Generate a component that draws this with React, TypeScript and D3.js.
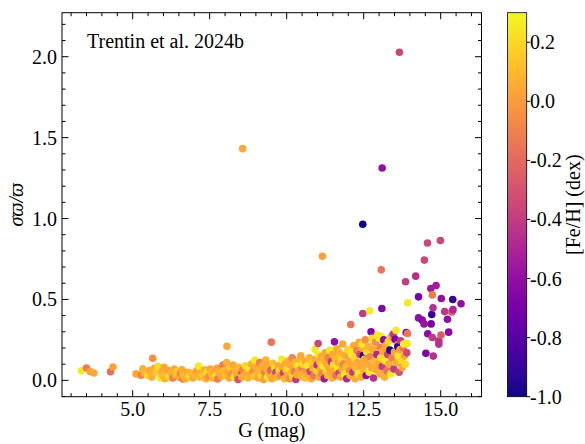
import React from 'react';
import * as d3 from 'd3';

// Each star: [G magnitude, relative parallax error sigma_plx/plx, [Fe/H] in dex]
type Star = [number, number, number];

const brightStars: Star[] = [
  [3.33, 0.059, 0.25], [3.50, 0.076, -0.12], [3.62, 0.055, 0.02], [3.74, 0.045, 0.05],
  [4.28, 0.053, -0.18], [4.36, 0.083, 0.02],
  [5.11, 0.040, 0.05], [5.27, 0.032, -0.08], [5.33, 0.072, 0.08], [5.40, 0.045, 0.10],
  [5.50, 0.030, 0.20], [5.55, 0.060, 0.05], [5.65, 0.137, -0.05], [5.62, 0.020, 0.08],
  [5.70, 0.075, 0.06], [5.78, 0.050, 0.15], [5.83, 0.085, 0.22], [5.90, 0.015, 0.25],
  [5.95, 0.055, 0.05], [5.98, 0.030, 0.10],
];

const band6to8: Star[] = [
  [6.02, 0.080, 0.05], [6.05, 0.010, 0.08], [6.10, 0.040, 0.12], [6.15, 0.060, 0.02],
  [6.20, 0.025, 0.25], [6.25, 0.045, 0.08], [6.30, 0.015, -0.10], [6.35, 0.070, 0.05],
  [6.40, 0.035, 0.10], [6.45, 0.055, 0.18], [6.50, 0.020, 0.05], [6.55, 0.045, -0.08],
  [6.60, 0.065, 0.05], [6.63, 0.008, -0.12], [6.65, 0.030, 0.12], [6.72, 0.010, 0.08],
  [6.78, 0.050, 0.05], [6.85, 0.025, 0.22], [6.90, 0.045, 0.10], [6.95, 0.015, 0.05],
  [7.02, 0.035, 0.08], [7.08, 0.060, 0.02], [7.14, 0.088, 0.25], [7.18, 0.020, 0.10],
  [7.22, 0.045, 0.05], [7.28, 0.030, 0.15], [7.33, 0.065, 0.08], [7.38, 0.010, 0.05],
  [7.42, 0.050, 0.22], [7.48, 0.025, -0.05], [7.52, 0.070, 0.05], [7.56, 0.040, 0.10],
  [7.60, 0.015, 0.08], [7.65, 0.055, 0.05], [7.70, 0.030, 0.20], [7.74, 0.075, 0.02],
  [7.76, 0.008, -0.12], [7.82, 0.045, 0.08], [7.88, 0.025, 0.05], [7.93, 0.095, -0.12],
  [7.97, 0.060, 0.10],
];

const band8to10: Star[] = [
  [8.02, 0.030, 0.12], [8.06, 0.210, 0.05], [8.05, 0.110, 0.08], [8.10, 0.050, 0.02],
  [8.14, 0.015, 0.05], [8.18, 0.075, 0.15], [8.22, 0.040, -0.05], [8.26, 0.095, 0.05],
  [8.30, 0.020, 0.25], [8.34, 0.060, 0.08], [8.38, 0.035, 0.05], [8.42, 0.005, -0.30],
  [8.45, 0.080, 0.10], [8.50, 0.045, 0.02], [8.56, 0.043, -0.35], [8.55, 0.020, 0.08],
  [8.58, 0.065, -0.10], [8.62, 0.030, 0.05], [8.66, 0.090, 0.20], [8.70, 0.050, 0.05],
  [8.75, 0.015, 0.10], [8.78, 0.070, 0.25], [8.82, 0.035, 0.05], [8.86, 0.100, 0.08],
  [8.90, 0.055, -0.05], [8.94, 0.025, 0.12], [8.97, 0.125, 0.25],
  [9.02, 0.080, 0.05], [9.05, 0.040, 0.10], [9.08, 0.015, 0.05], [9.12, 0.110, -0.10],
  [9.15, 0.060, 0.08], [9.18, 0.030, 0.20], [9.22, 0.090, 0.05], [9.25, 0.005, 0.02],
  [9.28, 0.050, -0.10], [9.32, 0.125, 0.08], [9.35, 0.070, 0.05], [9.38, 0.020, 0.25],
  [9.42, 0.040, 0.10], [9.45, 0.095, 0.05], [9.50, 0.236, -0.15], [9.48, 0.060, -0.20],
  [9.52, 0.010, 0.05], [9.55, 0.105, 0.12], [9.58, 0.035, 0.05], [9.62, 0.075, 0.25],
  [9.65, 0.050, -0.35], [9.68, 0.020, 0.08], [9.72, 0.090, 0.05], [9.76, 0.060, 0.20],
  [9.80, 0.030, -0.05], [9.84, 0.130, 0.25], [9.86, 0.080, 0.05], [9.90, 0.045, -0.38],
  [9.93, 0.010, 0.10], [9.96, 0.100, 0.05], [9.98, 0.065, 0.15],
];

const band10to12: Star[] = [
  [10.02, 0.030, 0.05], [10.05, 0.120, 0.08], [10.08, 0.070, 0.25], [10.10, 0.010, -0.05],
  [10.12, 0.095, 0.05], [10.15, 0.045, 0.10], [10.18, 0.140, -0.08], [10.20, 0.020, 0.20],
  [10.22, 0.080, 0.05], [10.25, 0.055, -0.12], [10.28, 0.110, 0.08], [10.30, 0.005, -0.40],
  [10.33, 0.035, 0.05], [10.36, 0.090, 0.25], [10.40, 0.060, 0.05], [10.43, 0.130, 0.10],
  [10.46, 0.152, 0.05], [10.48, 0.025, 0.08], [10.50, 0.075, -0.10], [10.53, 0.100, 0.20],
  [10.56, 0.045, 0.05], [10.60, 0.015, 0.12], [10.62, 0.120, 0.05], [10.65, 0.065, -0.05],
  [10.68, 0.090, 0.25], [10.70, 0.035, 0.05], [10.74, 0.140, 0.08], [10.76, 0.055, -0.35],
  [10.80, 0.010, 0.05], [10.82, 0.110, 0.15], [10.85, 0.075, 0.05], [10.88, 0.030, -0.15],
  [10.92, 0.190, 0.25], [10.94, 0.130, 0.05], [10.97, 0.060, 0.20], [10.99, 0.095, -0.45],
  [11.02, 0.228, -0.35], [11.03, 0.160, 0.25], [11.05, 0.020, 0.05], [11.08, 0.110, 0.10],
  [11.10, 0.070, 0.05], [11.12, 0.145, 0.05], [11.15, 0.040, -0.10], [11.18, 0.090, 0.25],
  [11.20, 0.125, 0.08], [11.22, 0.010, -0.55], [11.25, 0.170, 0.05], [11.28, 0.060, 0.20],
  [11.30, 0.100, 0.05], [11.33, 0.030, 0.10], [11.35, 0.140, -0.10], [11.38, 0.080, 0.05],
  [11.40, 0.185, 0.25], [11.43, 0.050, 0.05], [11.45, 0.115, -0.40], [11.48, 0.015, 0.08],
  [11.50, 0.160, 0.05], [11.52, 0.095, 0.22], [11.55, 0.238, -0.60], [11.56, 0.060, 0.05],
  [11.58, 0.135, 0.10], [11.60, 0.030, -0.15], [11.63, 0.195, 0.05], [11.66, 0.080, 0.25],
  [11.68, 0.110, 0.05], [11.70, 0.045, -0.35], [11.72, 0.170, 0.08], [11.75, 0.020, 0.05],
  [11.78, 0.130, 0.20], [11.80, 0.070, 0.05], [11.82, 0.225, 0.05], [11.85, 0.100, -0.10],
  [11.88, 0.040, 0.25], [11.90, 0.155, 0.05], [11.93, 0.085, 0.10], [11.95, 0.010, -0.50],
  [11.98, 0.190, 0.20],
];

const band12to14: Star[] = [
  [12.02, 0.120, 0.05], [12.04, 0.060, -0.05], [12.06, 0.030, 0.10], [12.08, 0.345, -0.15],
  [12.10, 0.170, 0.25], [12.12, 0.095, 0.05], [12.15, 0.050, -0.40], [12.18, 0.215, 0.05],
  [12.20, 0.140, 0.20], [12.22, 0.010, 0.05], [12.25, 0.075, 0.10], [12.28, 0.185, -0.10],
  [12.30, 0.110, 0.05], [12.32, 0.040, 0.25], [12.35, 0.235, 0.05], [12.38, 0.160, -0.35],
  [12.40, 0.090, 0.05], [12.42, 0.020, 0.08], [12.45, 0.200, 0.05], [12.46, 0.224, 0.25],
  [12.47, 0.413, -0.40], [12.49, 0.152, -0.95], [12.50, 0.060, 0.10], [12.52, 0.130, 0.05],
  [12.55, 0.250, -0.05], [12.58, 0.030, -0.60], [12.60, 0.175, 0.20], [12.62, 0.100, 0.05],
  [12.65, 0.210, 0.08], [12.68, 0.050, 0.25], [12.70, 0.430, 0.25], [12.72, 0.145, -0.10],
  [12.74, 0.300, -0.65], [12.76, 0.080, 0.05], [12.78, 0.260, 0.20], [12.80, 0.190, 0.05],
  [12.82, 0.015, -0.45], [12.85, 0.120, 0.10], [12.88, 0.235, -0.05], [12.90, 0.065, 0.05],
  [12.93, 0.160, -0.50], [12.95, 0.280, 0.25], [12.98, 0.100, 0.05],
  [13.00, 0.260, 0.25], [13.02, 0.040, 0.05], [13.03, 0.205, -0.10], [13.05, 0.140, 0.20],
  [13.07, 0.270, 0.25], [13.09, 0.444, -0.65], [13.10, 0.085, -0.40], [13.12, 0.180, 0.05],
  [13.15, 0.250, -0.60], [13.18, 0.020, 0.08], [13.20, 0.120, 0.25], [13.22, 0.215, 0.05],
  [13.25, 0.060, -0.15], [13.28, 0.160, -0.35], [13.30, 0.240, 0.20], [13.32, 0.100, 0.05],
  [13.35, 0.187, -0.95], [13.38, 0.040, 0.25], [13.40, 0.270, 0.05], [13.42, 0.140, -0.10],
  [13.46, 0.286, -0.40], [13.48, 0.070, -0.40], [13.50, 0.175, 0.05], [13.52, 0.253, -0.65],
  [13.55, 0.310, 0.25], [13.57, 0.110, 0.05], [13.60, 0.220, -0.10], [13.61, 0.207, -0.95],
  [13.62, 0.150, 0.25], [13.65, 0.050, -0.30], [13.68, 0.190, 0.05], [13.70, 0.245, -0.40],
  [13.72, 0.120, 0.20], [13.75, 0.080, 0.05], [13.78, 0.200, -0.15], [13.80, 0.224, 0.25],
  [13.82, 0.150, 0.05], [13.85, 0.100, 0.20], [13.88, 0.296, -0.65], [13.90, 0.170, -0.35],
  [13.91, 0.228, 0.25], [13.92, 0.290, -0.15], [13.93, 0.479, 0.25],
];

const faintStars: Star[] = [
  [13.86, 0.609, -0.40], [14.19, 0.644, -0.45], [14.28, 0.516, -0.70], [14.28, 0.386, -0.60],
  [14.40, 0.372, -0.62], [14.46, 0.349, -0.58], [14.47, 0.743, -0.35], [14.52, 0.167, -0.65],
  [14.57, 0.849, -0.35], [14.58, 0.288, -0.62], [14.68, 0.568, -0.55], [14.69, 0.349, -0.68],
  [14.71, 0.407, -0.90], [14.73, 0.528, -0.12], [14.73, 0.265, -0.40], [14.75, 0.448, -0.45],
  [14.76, 0.150, -0.45], [14.85, 0.586, -0.55], [14.94, 0.244, -0.45], [14.94, 0.224, -0.45],
  [14.99, 0.864, -0.35], [15.01, 0.280, -0.25], [15.02, 0.506, -0.60], [15.13, 0.425, -0.42],
  [15.22, 0.378, -0.60], [15.26, 0.298, -0.62], [15.36, 0.423, -0.25], [15.40, 0.437, -0.50],
  [15.39, 0.500, -0.90], [15.66, 0.473, -0.60],
];

const outliers: Star[] = [
  [8.57, 1.432, 0.05], [11.16, 0.767, 0.02], [12.47, 0.965, -1.00], [13.07, 0.683, -0.15],
  [13.10, 1.312, -0.60], [13.66, 2.028, -0.35],
];

const xMajorTicks = [5.0, 7.5, 10.0, 12.5, 15.0];
const yMajorTicks = [0.0, 0.5, 1.0, 1.5, 2.0];
const cbarTicks = [-1.0, -0.8, -0.6, -0.4, -0.2, 0.0, 0.2];

const xLabel = 'G (mag)';
const yLabel = 'σϖ/ϖ';
const cbarLabel = '[Fe/H] (dex)';
const annotation = 'Trentin et al. 2024b';

const W = 585;
const H = 444;
const plot = { left: 62, right: 481.5, top: 12.7, bottom: 396.7 };
const cbar = { left: 507.5, right: 526.7, top: 12.7, bottom: 396.7 };
const FONT = '"Liberation Serif", "Times New Roman", serif';
const FS = 20;

const fmt = (v: number) => (v < 0 ? '-' : '') + Math.abs(v).toFixed(1);

export default function App() {
  const x = d3.scaleLinear().domain([2.705, 16.325]).range([plot.left, plot.right]);
  const y = d3.scaleLinear().domain([-0.101, 2.272]).range([plot.bottom, plot.top]);
  const color = d3.scaleSequential(d3.interpolatePlasma).domain([-1.0, 0.3]);
  const cy = d3.scaleLinear().domain([-1.0, 0.3]).range([cbar.bottom, cbar.top]);

  const stars: Star[] = [
    ...brightStars, ...band6to8, ...band8to10, ...band10to12,
    ...band12to14, ...faintStars, ...outliers,
  ];

  const xMinor = d3.range(3.0, 16.3, 0.5).filter(v => !xMajorTicks.some(m => Math.abs(m - v) < 1e-6));
  const yMinor = d3.range(-0.1, 2.28, 0.1).filter(v => !yMajorTicks.some(m => Math.abs(m - v) < 1e-6) && v >= -0.101);

  const major = 6.5;
  const minor = 3.5;
  const gradStops = d3.range(0, 1.0001, 0.05);

  return (
    <svg width={W} height={H} style={{ position: 'absolute', left: 0, top: 0, background: '#fff' }}
      fontFamily={FONT}>
      <defs>
        <linearGradient id="plasmaBar" x1="0" y1="1" x2="0" y2="0">
          {gradStops.map(t => (
            <stop key={t} offset={`${t * 100}%`} stopColor={d3.interpolatePlasma(t)} />
          ))}
        </linearGradient>
        <clipPath id="plotClip">
          <rect x={plot.left} y={plot.top} width={plot.right - plot.left} height={plot.bottom - plot.top} />
        </clipPath>
      </defs>

      <g clipPath="url(#plotClip)">
        {stars.map((s, i) => (
          <circle key={i} cx={x(s[0])} cy={y(s[1])} r={3.8} fill={color(s[2])} />
        ))}
      </g>

      {/* ticks on all four sides, pointing inward */}
      <g stroke="#000" strokeWidth={1}>
        {xMajorTicks.map(v => (
          <g key={`xM${v}`}>
            <line x1={x(v)} x2={x(v)} y1={plot.bottom} y2={plot.bottom - major} />
            <line x1={x(v)} x2={x(v)} y1={plot.top} y2={plot.top + major} />
          </g>
        ))}
        {xMinor.map(v => (
          <g key={`xm${v}`}>
            <line x1={x(v)} x2={x(v)} y1={plot.bottom} y2={plot.bottom - minor} />
            <line x1={x(v)} x2={x(v)} y1={plot.top} y2={plot.top + minor} />
          </g>
        ))}
        {yMajorTicks.map(v => (
          <g key={`yM${v}`}>
            <line x1={plot.left} x2={plot.left + major} y1={y(v)} y2={y(v)} />
            <line x1={plot.right} x2={plot.right - major} y1={y(v)} y2={y(v)} />
          </g>
        ))}
        {yMinor.map(v => (
          <g key={`ym${v}`}>
            <line x1={plot.left} x2={plot.left + minor} y1={y(v)} y2={y(v)} />
            <line x1={plot.right} x2={plot.right - minor} y1={y(v)} y2={y(v)} />
          </g>
        ))}
      </g>

      <rect x={plot.left} y={plot.top} width={plot.right - plot.left} height={plot.bottom - plot.top}
        fill="none" stroke="#000" strokeWidth={1} />

      <g fontSize={FS} fill="#000">
        {xMajorTicks.map(v => (
          <text key={`xl${v}`} x={x(v)} y={416} textAnchor="middle">{fmt(v)}</text>
        ))}
        {yMajorTicks.map(v => (
          <text key={`yl${v}`} x={57} y={y(v)} dy="0.35em" textAnchor="end">{fmt(v)}</text>
        ))}
        <text x={(plot.left + plot.right) / 2} y={437} textAnchor="middle">{xLabel}</text>
        <text transform={`translate(23, ${(plot.top + plot.bottom) / 2}) rotate(-90)`} textAnchor="middle"
          fontStyle="italic">{yLabel}</text>
        <text x={87} y={48}>{annotation}</text>
      </g>

      {/* colour bar */}
      <rect x={cbar.left} y={cbar.top} width={cbar.right - cbar.left} height={cbar.bottom - cbar.top}
        fill="url(#plasmaBar)" stroke="#000" strokeWidth={0.8} />
      <g stroke="#000" strokeWidth={1}>
        {cbarTicks.map(v => (
          <line key={`ct${v}`} x1={cbar.right} x2={cbar.right + 3.5} y1={cy(v)} y2={cy(v)} />
        ))}
      </g>
      <g fontSize={FS} fill="#000">
        {cbarTicks.map(v => (
          <text key={`cl${v}`} x={530} y={cy(v)} dy="0.35em">{fmt(v)}</text>
        ))}
        <text transform={`translate(580, ${(cbar.top + cbar.bottom) / 2}) rotate(-90)`} textAnchor="middle">
          {cbarLabel}
        </text>
      </g>
    </svg>
  );
}
